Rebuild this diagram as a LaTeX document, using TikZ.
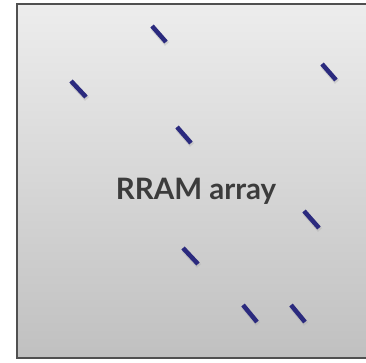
\documentclass[tikz,border=0pt]{standalone}
\usepackage{fontspec}
\setsansfont{Lato}
\definecolor{panelTop}{HTML}{EDEDED}
\definecolor{panelBot}{HTML}{C0C0C0}
\definecolor{panelEdge}{HTML}{505050}
\definecolor{cellBlue}{HTML}{2B2A7E}
\definecolor{labelGray}{HTML}{3C3C3C}
\begin{document}
\begin{tikzpicture}[x=1pt,y=-1pt,
  cell/.style={draw=cellBlue,line width=4.5pt,line cap=butt},
  cellshadow/.style={draw=black!35,line width=5.5pt,opacity=0.35}]
\useasboundingbox (0,0) rectangle (366,362);
\fill[white] (0,0) rectangle (366,362);
% array panel
\shade[top color=panelTop,bottom color=panelBot] (17,4) rectangle (372,358);
\draw[panelEdge,line width=1.3pt] (372,4) -- (17,4) -- (17,358) -- (372,358);
% caption
\node[text=labelGray,font=\sffamily\bfseries\fontsize{29.5}{34}\selectfont] (lbl) at (196,191) {RRAM array};
% resistive cells
\foreach \xa/\ya/\xb/\yb in {152/26/166/42, 322/64/336/80, 71/81/86/97, 177/127/191/143,
  304/211/319/228, 183/248/198/264, 243/305/257/322, 291/305/305/322}{
  \draw[cellshadow] (\xa+1,\ya+2) -- (\xb+1,\yb+2);
  \draw[cell] (\xa,\ya) -- (\xb,\yb);
}
\end{tikzpicture}
\end{document}
